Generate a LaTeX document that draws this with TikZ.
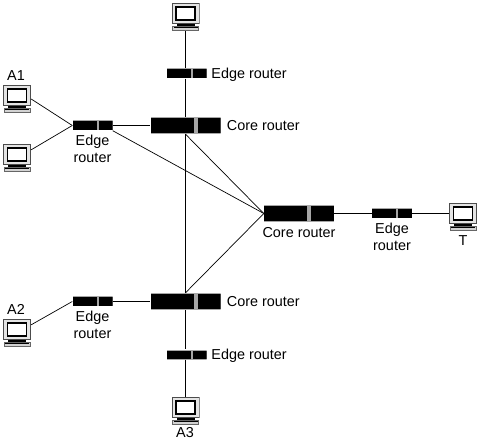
\documentclass[tikz,border=0pt]{standalone}
\usepackage{fontspec}
\setmainfont{Liberation Sans}
\usetikzlibrary{calc, positioning}

\definecolor{bezel}{gray}{0.65}

\tikzset{
  pcnode/.style={minimum width=28pt, minimum height=28pt, inner sep=0pt, path picture={
    \begin{scope}[shift={(path picture bounding box.center)}]
      \draw[line width=1pt, fill=bezel!30, draw=black!70] (-13.5,-13.5) rectangle (13.5,6.5);
      \draw[line width=1.8pt, fill=white] (-9.5,-10) rectangle (9.5,3);
      \fill (-9,7) rectangle (9,9.5);
      \draw[line width=0.7pt, draw=black!60, fill=bezel!50] (-13,9.5) rectangle (13,13.5);
      \fill (-12,10) rectangle (12,11);
    \end{scope}}},
  corerouter/.style={minimum width=70pt, minimum height=17pt, inner sep=0pt, path picture={
    \begin{scope}[shift={(path picture bounding box.center)}]
      \fill[bezel] (-35,-8.5) rectangle (35,8.5);
      \fill (-35,-7.5) rectangle (35,8);
      \fill[bezel] (8,-8.5) rectangle (12,8.5);
    \end{scope}}},
  edgerouter/.style={minimum width=40pt, minimum height=10pt, inner sep=0pt, path picture={
    \begin{scope}[shift={(path picture bounding box.center)}]
      \fill[bezel] (-20,-5) rectangle (20,5);
      \fill (-20,-4) rectangle (20,4.5);
      \fill[bezel] (4.3,-5) rectangle (6.3,5);
    \end{scope}}},
  rlabel/.style={font=\fontsize{14.4}{17}\selectfont, inner sep=0pt, align=center},
  sidelabel/.style={rlabel, text height=10.3pt, text depth=0pt},
  link/.style={line width=0.7pt}
}

\begin{document}
\begin{tikzpicture}[x=1pt, y=-1pt]
\useasboundingbox (0,0) rectangle (480,441);

\node[pcnode] (pctop) at (185.5,17) {};
\node[pcnode] (pcaone) at (17,99) {};
\node[pcnode] (pcleft) at (17,158) {};
\node[pcnode] (pcatwo) at (17,333) {};
\node[pcnode] (pcathree) at (185.5,411) {};
\node[pcnode] (pct) at (463,217) {};

\node[corerouter] (coretop) at (185.5,125.5) {};
\node[corerouter] (coremid) at (299,213.5) {};
\node[corerouter] (corebot) at (185.5,301.5) {};

\node[edgerouter] (edgetop) at (186.5,73.5) {};
\node[edgerouter] (edgeleft) at (92.5,125.5) {};
\node[edgerouter] (edgelow) at (92.5,301.5) {};
\node[edgerouter] (edgebot) at (186.5,354.5) {};
\node[edgerouter] (edgeright) at (392,213.5) {};

\draw[link] (pctop) -- (pctop |- edgetop.north);
\draw[link] (pctop |- edgetop.south) -- (pctop |- coretop.north);
\draw[link] (coretop) -- (corebot);
\draw[link] (corebot) -- (corebot |- edgebot.north);
\draw[link] (corebot |- edgebot.south) -- (pcathree);
\draw[link] (pcaone.east) -- (edgeleft.west);
\draw[link] (pcleft.30) -- (edgeleft.west);
\draw[link] (edgeleft.east) -- (coretop.west);
\draw[link] (edgeleft.south east) -- (coremid.west);
\draw[link] (coretop.south) -- (coremid.west);
\draw[link] (corebot.north) -- (coremid.west);
\draw[link] (pcatwo.30) -- (edgelow.west);
\draw[link] (edgelow.east) -- (corebot.west);
\draw[link] (coremid.east) -- (edgeright.west);
\draw[link] (edgeright.east) -- (pct.166);

\node[rlabel] (laone) at (16,76) {A1};
\node[rlabel] (latwo) at (16,309) {A2};
\node[rlabel] (lathree) at (185,433) {A3};
\node[rlabel] (lt) at (463,241) {T};
\node[sidelabel, right=4.5pt of edgetop] (ledgetop) {Edge router};
\node[sidelabel, right=4.5pt of edgebot] (ledgebot) {Edge router};
\node[sidelabel, right=6pt of coretop] (lcoretop) {Core router};
\node[sidelabel, right=6pt of corebot] (lcorebot) {Core router};
\node[rlabel, below=5pt of coremid] (lcoremid) {Core router};
\node[rlabel, below=4.5pt of edgeleft] (ledgeleft) {Edge\\router};
\node[rlabel, below=4.5pt of edgelow] (ledgelow) {Edge\\router};
\node[rlabel, below=4.5pt of edgeright] (ledgeright) {Edge\\router};
\end{tikzpicture}
\end{document}
